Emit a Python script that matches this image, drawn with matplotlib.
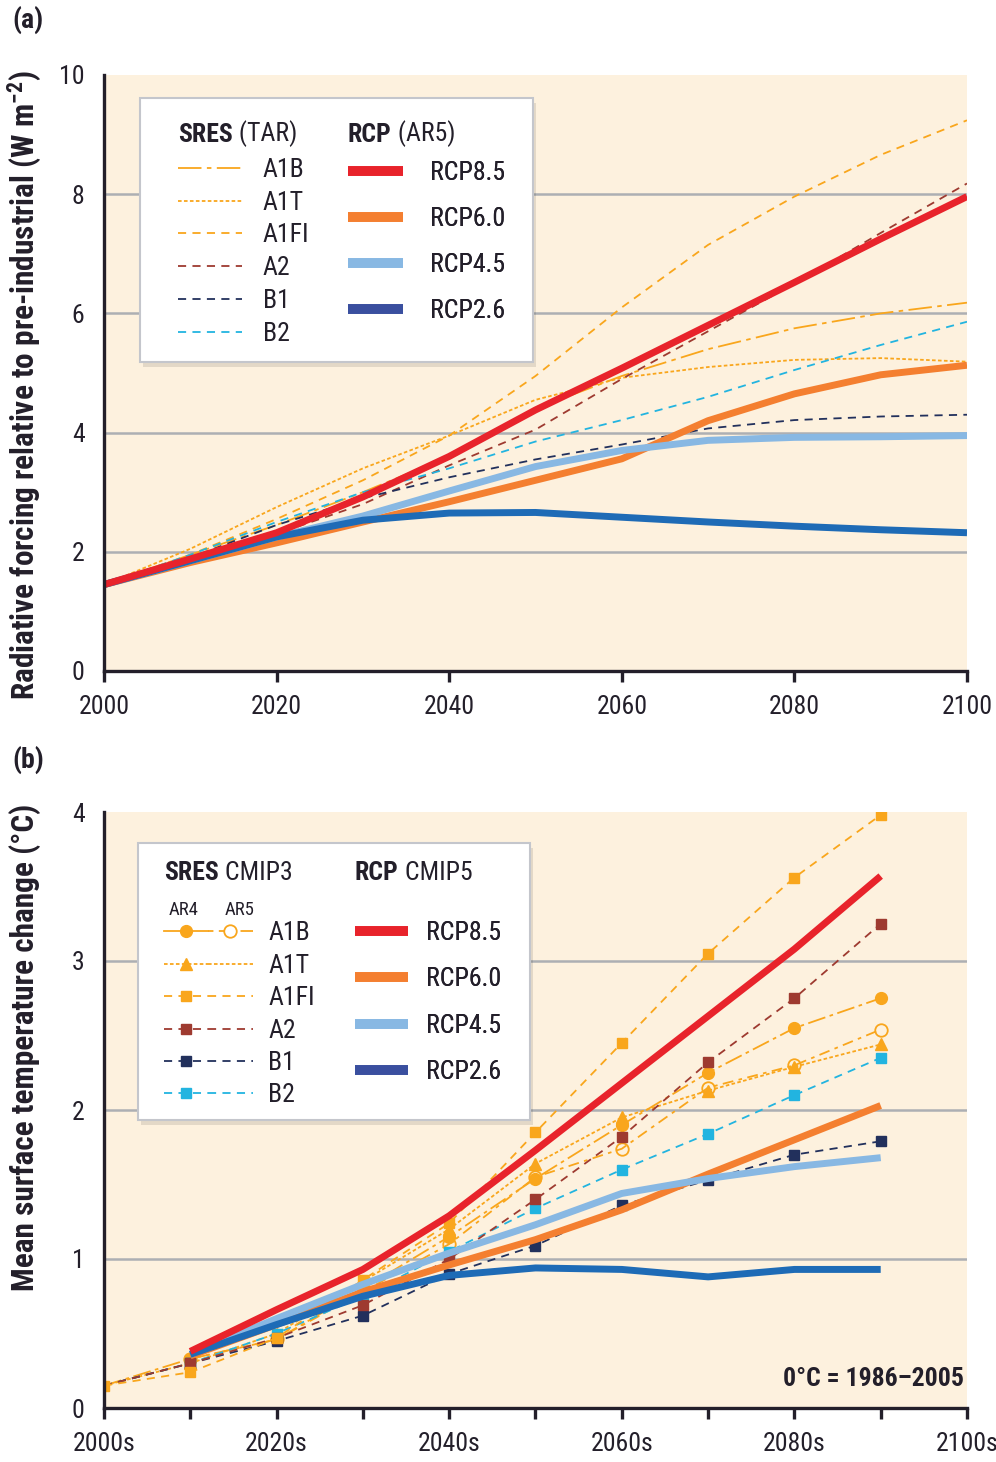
import matplotlib
matplotlib.use('Agg')
import matplotlib.pyplot as plt
from matplotlib.lines import Line2D
from matplotlib.legend_handler import HandlerTuple
from matplotlib.patches import Rectangle
from matplotlib import font_manager as fm
import numpy as np

# ---------------- fonts ----------------
avail = {f.name for f in fm.fontManager.ttflist}
FONT = next((f for f in ['Roboto Condensed', 'Liberation Sans Narrow',
                         'Open Sans Condensed', 'DejaVu Sans Condensed']
             if f in avail), 'DejaVu Sans')
plt.rcParams['font.family'] = [FONT, 'DejaVu Sans']
if FONT == 'DejaVu Sans':
    plt.rcParams['font.stretch'] = 'condensed'

# ---------------- data: panel (a) radiative forcing ----------------
years_a = [2000, 2010, 2020, 2030, 2040, 2050, 2060, 2070, 2080, 2090, 2100]
a1b_a  = [1.45, 1.95, 2.45, 3.00, 3.60, 4.40, 4.95, 5.40, 5.75, 6.00, 6.18]
a1t_a  = [1.45, 2.05, 2.75, 3.40, 3.95, 4.55, 4.92, 5.10, 5.22, 5.25, 5.19]
a1fi_a = [1.45, 1.95, 2.55, 3.20, 3.95, 4.95, 6.10, 7.15, 7.96, 8.66, 9.24]
a2_a   = [1.45, 1.90, 2.30, 2.80, 3.45, 4.05, 4.90, 5.70, 6.50, 7.35, 8.18]
b1_a   = [1.45, 1.90, 2.45, 2.90, 3.25, 3.55, 3.80, 4.07, 4.21, 4.27, 4.30]
b2_a   = [1.45, 1.95, 2.50, 3.00, 3.40, 3.85, 4.21, 4.60, 5.05, 5.47, 5.86]
rcp85_a = [1.45, 1.88, 2.32, 2.92, 3.60, 4.38, 5.08, 5.80, 6.52, 7.25, 7.96]
rcp60_a = [1.45, 1.82, 2.15, 2.50, 2.84, 3.20, 3.56, 4.20, 4.65, 4.97, 5.13]
rcp45_a = [1.45, 1.85, 2.25, 2.60, 3.02, 3.43, 3.70, 3.87, 3.92, 3.93, 3.95]
rcp26_a = [1.45, 1.85, 2.25, 2.53, 2.65, 2.66, 2.58, 2.50, 2.43, 2.37, 2.32]

# ---------------- data: panel (b) temperature change ----------------
years_b = [2000, 2010, 2020, 2030, 2040, 2050, 2060, 2070, 2080, 2090]
a1b_ar4_b = [0.15, 0.33, 0.46, 0.80, 1.15, 1.54, 1.90, 2.25, 2.55, 2.75]
a1b_ar5_b = [np.nan, 0.33, 0.46, 0.78, 1.10, 1.55, 1.74, 2.15, 2.30, 2.54]
a1t_b  = [0.15, 0.30, 0.50, 0.85, 1.20, 1.64, 1.95, 2.13, 2.29, 2.44]
a1fi_b = [0.15, 0.24, 0.47, 0.86, 1.24, 1.85, 2.45, 3.05, 3.56, 3.98]
a2_b   = [0.15, 0.30, 0.47, 0.69, 1.00, 1.40, 1.82, 2.32, 2.75, 3.25]
b1_b   = [0.15, 0.30, 0.45, 0.62, 0.90, 1.09, 1.36, 1.53, 1.70, 1.79]
b2_b   = [0.15, 0.30, 0.50, 0.75, 1.05, 1.34, 1.60, 1.84, 2.10, 2.35]
years_rcp_b = [2010, 2020, 2030, 2040, 2050, 2060, 2070, 2080, 2090]
rcp85_b = [0.38, 0.66, 0.93, 1.29, 1.73, 2.18, 2.63, 3.08, 3.57]
rcp60_b = [0.35, 0.56, 0.78, 0.96, 1.13, 1.33, 1.57, 1.80, 2.03]
rcp45_b = [0.36, 0.60, 0.83, 1.04, 1.23, 1.44, 1.54, 1.62, 1.68]
rcp26_b = [0.36, 0.56, 0.75, 0.89, 0.94, 0.93, 0.88, 0.93, 0.93]

sres_labels = ['A1B', 'A1T', 'A1FI', 'A2', 'B1', 'B2']
rcp_labels = ['RCP8.5', 'RCP6.0', 'RCP4.5', 'RCP2.6']
xtick_a = [2000, 2020, 2040, 2060, 2080, 2100]
xtick_b = [2000, 2020, 2040, 2060, 2080, 2100]
xtick_b_labels = ['2000s', '2020s', '2040s', '2060s', '2080s', '2100s']
xminor_b = [2010, 2030, 2050, 2070, 2090]
ytick_a = [0, 2, 4, 6, 8, 10]
ygrid_a = [2, 4, 6, 8]
ytick_b = [0, 1, 2, 3, 4]
ygrid_b = [1, 2, 3]

# ---------------- colours / styles ----------------
BG = '#FDF1DE'
GRID = '#ADAFB3'
TXT = '#231F2A'
C_A1 = '#F9A61C'
C_A2 = '#9E3A30'
C_B1 = '#22305C'
C_B2 = '#22B4E0'
C_85 = '#E8232B'
C_60 = '#F47F30'
C_45 = '#88B8E3'
C_26 = '#1E6BB6'
C_26L = '#3A4F9F'

FS = 18.5
D_A1B = (13, 3, 2.5, 3)
D_A1T = (2, 1.3)
D_DASH = (4.5, 3.5)

W, H = 996, 1462
fig = plt.figure(figsize=(W / 100, H / 100), dpi=100)


def rect(l, t, r, b):
    return [l / W, 1 - b / H, (r - l) / W, (b - t) / H]


axA = fig.add_axes(rect(104, 75, 967, 671))
axB = fig.add_axes(rect(104, 812, 967, 1408))


def style(ax, ylim, yticks, grid):
    ax.set_facecolor(BG)
    ax.set_xlim(2000, 2100)
    ax.set_ylim(*ylim)
    for s in ['top', 'right']:
        ax.spines[s].set_visible(False)
    for s in ['left', 'bottom']:
        ax.spines[s].set_linewidth(2.4)
        ax.spines[s].set_color(TXT)
        ax.spines[s].set_zorder(6)
    ax.set_yticks(yticks)
    ax.tick_params(axis='y', length=0, pad=14, labelsize=FS, labelcolor=TXT)
    ax.tick_params(axis='x', which='both', length=8, width=2.4, color=TXT,
                   direction='out', pad=9, labelsize=FS, labelcolor=TXT)
    for g in grid:
        ax.axhline(g, color=GRID, lw=1.8, zorder=1)


style(axA, (0, 10), ytick_a, ygrid_a)
style(axB, (0, 4), ytick_b, ygrid_b)
axA.set_xticks(xtick_a)
axB.set_xticks(xtick_b)
axB.set_xticklabels(xtick_b_labels)
axB.set_xticks(xminor_b, minor=True)

# ---------------- panel (a) lines ----------------
kw_thin = dict(lw=1.3, zorder=2.5)
axA.plot(years_a, a1b_a, color=C_A1, dashes=D_A1B, **kw_thin)
axA.plot(years_a, a1t_a, color=C_A1, dashes=D_A1T, **kw_thin)
axA.plot(years_a, a1fi_a, color=C_A1, dashes=D_DASH, **kw_thin)
axA.plot(years_a, a2_a, color=C_A2, dashes=D_DASH, **kw_thin)
axA.plot(years_a, b1_a, color=C_B1, dashes=D_DASH, **kw_thin)
axA.plot(years_a, b2_a, color=C_B2, dashes=D_DASH, **kw_thin)
kw_thick = dict(lw=5, zorder=3, solid_capstyle='butt', solid_joinstyle='round')
axA.plot(years_a, rcp60_a, color=C_60, **kw_thick)
axA.plot(years_a, rcp45_a, color=C_45, **kw_thick)
axA.plot(years_a, rcp26_a, color=C_26, **kw_thick)
axA.plot(years_a, rcp85_a, color=C_85, **kw_thick)

# ---------------- panel (b) lines ----------------
skip0 = slice(1, None)
kwb = dict(lw=1.3, zorder=2.5)
axB.plot(years_b, a1b_ar4_b, color=C_A1, dashes=(10, 2.5, 2, 2.5), marker='o',
         ms=8.5, markevery=skip0, **kwb)
axB.plot(years_b, a1b_ar5_b, color=C_A1, dashes=(6, 3, 2, 3), marker='o',
         ms=9, mfc='none', mew=1.3, **kwb)
axB.plot(years_b, a1t_b, color=C_A1, dashes=D_A1T, marker='^', ms=8.5,
         markevery=skip0, **kwb)
axB.plot(years_b, b2_b, color=C_B2, dashes=D_DASH, marker='s', ms=7,
         markevery=skip0, **kwb)
axB.plot(years_b, b1_b, color=C_B1, dashes=D_DASH, marker='s', ms=7,
         markevery=skip0, **kwb)
axB.plot(years_b, a2_b, color=C_A2, dashes=D_DASH, marker='s', ms=7,
         markevery=skip0, **kwb)
axB.plot(years_b, a1fi_b, color=C_A1, dashes=D_DASH, marker='s', ms=7, **kwb)
axB.plot(years_rcp_b, rcp60_b, color=C_60, **kw_thick)
axB.plot(years_rcp_b, rcp45_b, color=C_45, **kw_thick)
axB.plot(years_rcp_b, rcp26_b, color=C_26, **kw_thick)
axB.plot(years_rcp_b, rcp85_b, color=C_85, **kw_thick)


# ---------------- legend boxes ----------------
def box(ax, x0, y0, x1, y1):
    sh = Rectangle((x0 + 0.004, y0 - 0.008), x1 - x0, y1 - y0, transform=ax.transAxes,
                   facecolor='#000000', alpha=0.10, edgecolor='none', zorder=4.4)
    ax.add_patch(sh)
    bx = Rectangle((x0, y0), x1 - x0, y1 - y0, transform=ax.transAxes,
                   facecolor='white', edgecolor='#C4C6CC', lw=1.5, zorder=4.5)
    ax.add_patch(bx)


def header(ax, x, y, bold, rest):
    t = ax.text(x, y, bold, transform=ax.transAxes, fontsize=FS, fontweight='bold',
                color=TXT, va='center', ha='left', zorder=6)
    ax.annotate(rest, xy=(1, 0), xycoords=t, va='bottom', ha='left',
                fontsize=FS, color=TXT, zorder=6)


def leg(ax, handles, labels, anchor, hl, htp, ls, **kw):
    lg = ax.legend(handles, labels, loc='upper left', bbox_to_anchor=anchor,
                   frameon=False, borderpad=0, borderaxespad=0, handlelength=hl,
                   handletextpad=htp, labelspacing=ls, fontsize=FS,
                   labelcolor=TXT, **kw)
    lg.set_zorder(6)
    ax.add_artist(lg)
    return lg


# panel (a) legend
box(axA, 0.0417, 0.518, 0.497, 0.961)
header(axA, 0.0857, 0.900, 'SRES', ' (TAR)')
header(axA, 0.2827, 0.900, 'RCP', ' (AR5)')
hA = [Line2D([], [], color=C_A1, lw=1.3, dashes=D_A1B),
      Line2D([], [], color=C_A1, lw=1.3, dashes=D_A1T),
      Line2D([], [], color=C_A1, lw=1.3, dashes=D_DASH),
      Line2D([], [], color=C_A2, lw=1.3, dashes=D_DASH),
      Line2D([], [], color=C_B1, lw=1.3, dashes=D_DASH),
      Line2D([], [], color=C_B2, lw=1.3, dashes=D_DASH)]
leg(axA, hA, sres_labels, (0.0857, 0.861), 2.5, 0.8, 0.34)
hR = [Line2D([], [], color=c, lw=7, solid_capstyle='butt') for c in (C_85, C_60, C_45, C_26L)]
leg(axA, hR, rcp_labels, (0.2827, 0.855), 2.15, 1.05, 0.85)

# panel (b) legend
box(axB, 0.0394, 0.483, 0.4936, 0.948)
header(axB, 0.0695, 0.8977, 'SRES', ' CMIP3')
header(axB, 0.2908, 0.8977, 'RCP', ' CMIP5')
axB.text(0.0920, 0.8356, 'AR4', transform=axB.transAxes, fontsize=13.5, color=TXT,
         ha='center', va='center', zorder=6)
axB.text(0.1570, 0.8356, 'AR5', transform=axB.transAxes, fontsize=13.5, color=TXT,
         ha='center', va='center', zorder=6)
hB = [
    (Line2D([], [], color=C_A1, lw=1.3, marker='o', ms=8.5),
     Line2D([], [], color=C_A1, lw=1.3, dashes=(3, 3, 6, 0.01), marker='o', ms=9, mfc='white', mew=1.3)),
    (Line2D([], [], color=C_A1, lw=1.3, dashes=D_A1T, marker='^', ms=8.5),
     Line2D([], [], color=C_A1, lw=1.3, dashes=D_A1T)),
    (Line2D([], [], color=C_A1, lw=1.3, dashes=D_DASH, marker='s', ms=7),
     Line2D([], [], color=C_A1, lw=1.3, dashes=D_DASH)),
    (Line2D([], [], color=C_A2, lw=1.3, dashes=D_DASH, marker='s', ms=7),
     Line2D([], [], color=C_A2, lw=1.3, dashes=D_DASH)),
    (Line2D([], [], color=C_B1, lw=1.3, dashes=D_DASH, marker='s', ms=7),
     Line2D([], [], color=C_B1, lw=1.3, dashes=D_DASH)),
    (Line2D([], [], color=C_B2, lw=1.3, dashes=D_DASH, marker='s', ms=7),
     Line2D([], [], color=C_B2, lw=1.3, dashes=D_DASH)),
]
leg(axB, hB, sres_labels, (0.0695, 0.817), 3.45, 0.6, 0.33,
    handler_map={tuple: HandlerTuple(ndivide=None, pad=0.0)})
hR2 = [Line2D([], [], color=c, lw=7, solid_capstyle='butt') for c in (C_85, C_60, C_45, C_26L)]
leg(axB, hR2, rcp_labels, (0.2908, 0.817), 2.05, 0.72, 0.87)

# ---------------- annotations ----------------
axB.text(0.9965, 0.048, '0°C = 1986–2005', transform=axB.transAxes, fontsize=FS,
         fontweight='bold', color=TXT, ha='right', va='center', zorder=6)
fig.text(12 / W, 1 - 20 / H, '(a)', fontsize=20, fontweight='bold', color=TXT,
         ha='left', va='center')
fig.text(12 / W, 1 - 760 / H, '(b)', fontsize=20, fontweight='bold', color=TXT,
         ha='left', va='center')
fig.text(25 / W, 1 - 385 / H,
         r'Radiative forcing relative to pre-industrial (W m$\mathregular{^{-2}}$)',
         rotation=90, fontsize=22.5, fontweight='bold', color=TXT, ha='center', va='center')
fig.text(25 / W, 1 - 1047 / H, 'Mean surface temperature change (°C)',
         rotation=90, fontsize=22.5, fontweight='bold', color=TXT, ha='center', va='center')

fig.savefig('out.png', dpi=100, facecolor='white')
